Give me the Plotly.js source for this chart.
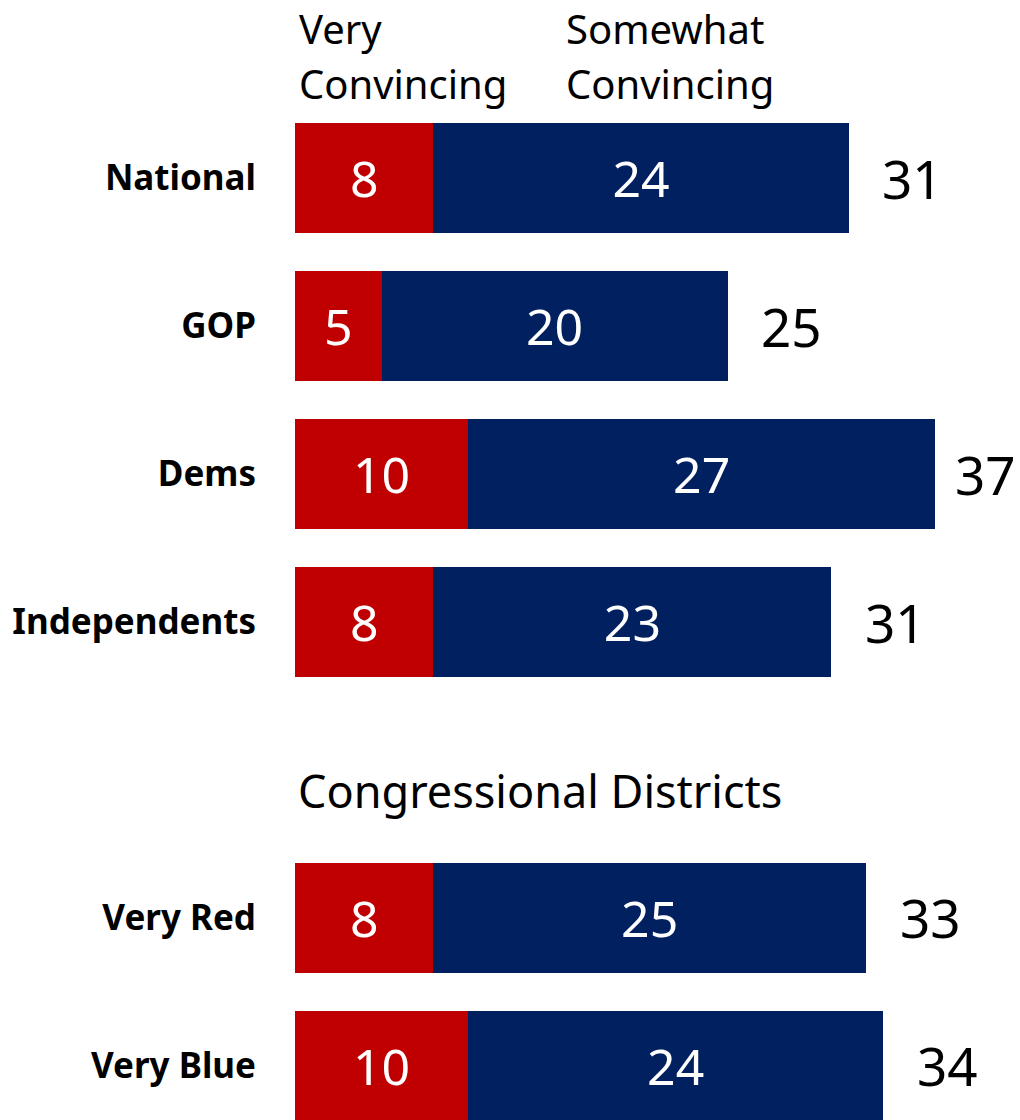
<!DOCTYPE html>
<html>
<head>
<meta charset="utf-8">
<script src="https://cdn.plot.ly/plotly-3.0.1.min.js"></script>
<style>html,body{margin:0;padding:0;background:#fff;}#chart{width:1020px;height:1120px;}</style>
</head>
<body>
<div id="chart"></div>
<script>
// ---- data ----
const categories = ["National", "GOP", "Dems", "Independents", " ", "Very Red", "Very Blue"];
const veryConvincing = [8, 5, 10, 8, null, 8, 10];
const somewhatConvincing = [24, 20, 27, 23, null, 25, 24];
const totals = [31, 25, 37, 31, null, 33, 34];
const seriesNames = ["Very<br>Convincing", "Somewhat<br>Convincing"];
const sectionLabel = "Congressional Districts";

// ---- styles ----
const RED = "#C00000";
const NAVY = "#002060";
const FONT = "'Noto Sans', 'Open Sans', sans-serif";
const NUMSIZE = 50;
const TOTSIZE = 53;
const BARW = 0.743;
const TOTOFFSET = 3.7;
const XMAX = 41.9;

const traces = [
  {
    type: "bar", orientation: "h", name: "Very Convincing",
    y: categories, x: veryConvincing, width: BARW,
    marker: {color: RED},
    text: veryConvincing.map(v => v === null ? "" : String(v)),
    textposition: "inside", insidetextanchor: "middle",
    textfont: {color: "#fff", size: NUMSIZE, family: FONT},
    hoverinfo: "skip"
  },
  {
    type: "bar", orientation: "h", name: "Somewhat Convincing",
    y: categories, x: somewhatConvincing, width: BARW,
    marker: {color: NAVY},
    text: somewhatConvincing.map(v => v === null ? "" : String(v)),
    textposition: "inside", insidetextanchor: "middle",
    textfont: {color: "#fff", size: NUMSIZE, family: FONT},
    hoverinfo: "skip"
  }
];

const totalAnnotations = [];
categories.forEach((c, i) => {
  if (totals[i] === null) return;
  const xpos = veryConvincing[i] + somewhatConvincing[i] + TOTOFFSET;
  const ann = {
    yref: "y", y: c, yanchor: "middle", text: String(totals[i]), showarrow: false,
    font: {family: FONT, size: TOTSIZE, color: "#000"}
  };
  if (xpos > XMAX - 1.9) {
    // keep the label inside the picture
    Object.assign(ann, {xref: "paper", x: 1, xanchor: "right", xshift: -2});
  } else {
    Object.assign(ann, {xref: "x", x: xpos, xanchor: "center"});
  }
  totalAnnotations.push(ann);
});

const hdr = (txt, x, ypx, size) => ({
  xref: "paper", yref: "paper", x: x, y: 1 - ypx / 1120, xanchor: "left", yanchor: "middle",
  text: txt, showarrow: false, font: {family: FONT, size: size, color: "#000"}
});

const layout = {
  width: 1020, height: 1120,
  margin: {l: 295, r: 0, t: 0, b: 0},
  paper_bgcolor: "#fff", plot_bgcolor: "#fff",
  barmode: "stack",
  showlegend: false,
  xaxis: {range: [0, XMAX], visible: false, fixedrange: true},
  yaxis: {
    type: "category", categoryorder: "array", categoryarray: categories,
    range: [6.365, -1.203],
    showgrid: false, zeroline: false, showline: false,
    ticks: "outside", ticklen: 31, tickcolor: "rgba(0,0,0,0)",
    tickfont: {family: FONT, size: 35, color: "#000", weight: "bold"},
    fixedrange: true
  },
  annotations: [
    hdr(seriesNames[0].split("<br>")[0], 0.003, 28, 40),
    hdr(seriesNames[0].split("<br>")[1], 0.003, 84, 40),
    hdr(seriesNames[1].split("<br>")[0], 0.371, 28, 40),
    hdr(seriesNames[1].split("<br>")[1], 0.371, 84, 40),
    hdr(sectionLabel, 0.002, 790, 45)
  ].concat(totalAnnotations)
};

Plotly.newPlot("chart", traces, layout, {staticPlot: true, displayModeBar: false});
</script>
</body>
</html>
